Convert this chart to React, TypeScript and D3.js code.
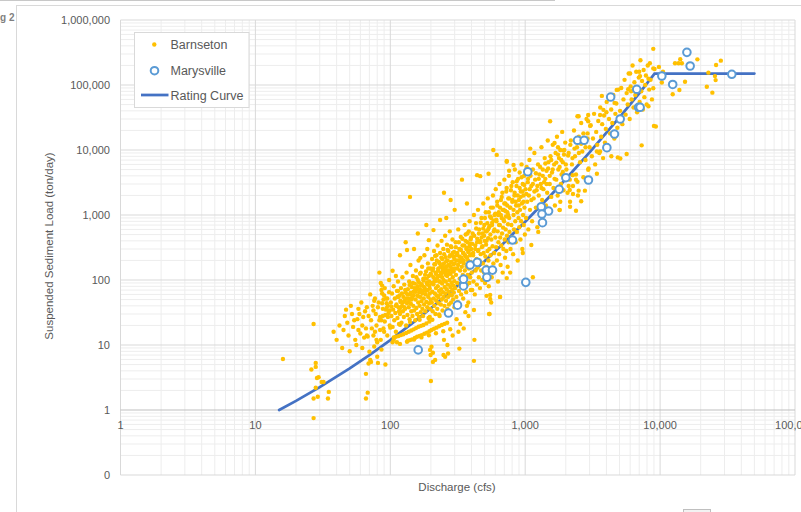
import { useEffect, useRef } from "react";
import * as d3 from "d3";

type Pt = [number, number];

// Barnseton samples: [discharge cfs, load ton/day]
const barnsetonLowFlow: Pt[] = [
  [16, 6.1], [27, 21], [28, 5.3], [26, 4.2], [28, 4.6], [28.6, 3.1], [29.4, 3.2], [31, 2.7],
  [32, 2.7], [28, 2.2], [35, 1.9], [27, 1.5], [29, 1.6], [27, 0.75], [34.5, 1.5], [38, 16],
  [40, 12], [44, 9], [45, 17], [48, 22], [50, 8], [52, 30], [53, 19], [55, 12], [57, 25],
  [58, 17], [58, 36], [60, 15], [62, 20], [62, 9], [63, 27], [65, 33], [66, 18], [66, 3.6],
  [66, 1.5], [67, 14], [68, 13.5], [68, 1.85], [69, 5.2], [70, 7.9], [71, 5.9], [72, 5.5],
  [72, 24], [74, 40], [75, 14], [76, 48], [76, 9.5], [77, 16], [78, 30], [79, 20], [80, 6.6],
  [80, 11], [81, 5.3], [82, 45], [83, 130], [84, 27], [85, 12], [86, 24], [86, 70], [86, 8.5],
  [87, 82], [87, 62], [88, 36], [89, 18], [89, 50], [90, 58], [91, 23], [92, 29], [92, 5],
  [93, 35], [94, 44], [94, 37], [95, 14], [95, 52], [96, 27], [97, 31], [98, 65], [99, 20],
  [42, 20], [46, 28], [47, 35], [49, 14], [51, 40], [54, 24], [56, 10], [59, 30], [61, 45],
  [64, 13], [67, 38], [69, 28], [71, 60], [73, 18], [75, 34], [77, 52], [79, 12], [81, 38],
  [83, 24], [85, 90], [87, 44], [88, 28], [90, 16], [91, 75], [93, 52], [96, 40], [98, 100],
  [99, 34],
];

// the straight runs of points just under the curve
const barnsetonStreaks: Pt[] = [
  [135, 11.6], [140, 11.9], [145, 12.2], [152, 12.8], [158, 13.4], [165, 13.8], [171, 14.2],
  [179, 14.9], [187, 15.5], [195, 16.3], [202, 17], [211, 17.8], [220, 18.5], [230, 19.4],
  [241, 20.3], [252, 21.1], [264, 22],
  [106, 13.1], [110, 13.4], [115, 13.7], [120, 14.2], [125, 14.6], [131, 15.3], [137, 16],
  [143, 16.7], [149, 17.4], [155, 18.2], [162, 19.1], [169, 19.7], [176, 20.3], [185, 21.5],
  [195, 23], [205, 24.5],
  [118, 10.4], [133, 11.2], [150, 12.1], [170, 13.1], [193, 14.1], [218, 15.2], [247, 16.3],
  [278, 17.5],
  [84, 17], [100, 18.5], [118, 20.5], [140, 22.5], [165, 24.5], [196, 27], [230, 29.5],
  [262, 32.6],
];

const barnsetonMidFlow: Pt[] = [
  [101, 45], [102, 28], [103, 62], [104, 19], [105, 35], [106, 80], [107, 24], [108, 52],
  [109, 31], [110, 16], [111, 42], [112, 68], [113, 26], [114, 95], [115, 38], [116, 21],
  [117, 58], [118, 30], [119, 46], [120, 75], [121, 22], [122, 40], [123, 110], [124, 33],
  [125, 55], [126, 27], [127, 85], [128, 48], [129, 36], [130, 64], [131, 20], [132, 130],
  [133, 44], [134, 29], [135, 72], [136, 52], [137, 38], [138, 95], [139, 25], [140, 60],
  [141, 170], [142, 43], [143, 33], [144, 78], [145, 54], [146, 28], [147, 115], [148, 40],
  [149, 66], [150, 34], [152, 88], [153, 24], [154, 50], [155, 140], [156, 37], [157, 72],
  [158, 30], [159, 58], [160, 100], [161, 45], [162, 200], [163, 27], [164, 65], [165, 40],
  [166, 125], [167, 55], [168, 32], [169, 82], [170, 47], [172, 160], [173, 36], [174, 68],
  [175, 28], [176, 105], [177, 52], [178, 42], [179, 240], [180, 75], [182, 33], [183, 60],
  [184, 135], [185, 46], [186, 90], [188, 38], [189, 70], [190, 180], [191, 55], [192, 26],
  [193, 115], [194, 44], [195, 82], [196, 62], [197, 36], [198, 150], [199, 50],
  [104, 11], [112, 11], [106, 12], [197, 8.4], [202, 9.4], [207, 7.6], [199, 7], [200, 2.8],
  [207, 5.5], [215, 5.9], [140, 1900], [130, 380], [160, 520], [185, 700], [118, 240],
  [150, 300], [133, 290], [167, 219], [188, 300], [193, 410], [104, 139], [110, 115],
  [115, 55], [114, 68], [102, 39], [118, 37],
  [201, 120], [203, 45], [204, 210], [205, 66], [206, 33], [208, 150], [209, 86], [210, 52],
  [211, 280], [212, 40], [213, 98], [214, 62], [215, 175], [216, 30], [217, 130], [218, 75],
  [219, 48], [220, 240], [221, 58], [222, 105], [223, 36], [224, 340], [225, 80], [226, 140],
  [227, 54], [228, 44], [229, 190], [230, 68], [231, 115], [232, 28], [233, 95], [234, 260],
  [235, 60], [236, 160], [237, 42], [238, 72], [239, 125], [240, 400], [241, 50], [242, 88],
  [243, 210], [244, 34], [245, 145], [246, 65], [247, 300], [248, 100], [249, 55],
  [250, 180], [252, 40], [253, 78], [254, 130], [255, 480], [256, 62], [257, 225], [258, 95],
  [259, 48], [260, 160], [262, 72], [263, 350], [264, 115], [265, 36], [266, 200], [267, 85],
  [268, 55], [269, 280], [270, 140], [271, 66], [272, 42], [274, 170], [275, 100], [276, 560],
  [277, 60], [278, 240], [279, 78], [280, 125], [282, 45], [283, 190], [284, 320], [285, 90],
  [286, 58], [287, 150], [288, 70], [289, 420], [290, 110], [292, 50], [293, 230], [294, 82],
  [295, 135], [296, 64], [297, 270], [298, 96], [299, 38],
  [300, 180], [303, 75], [305, 380], [307, 120], [309, 55], [311, 240], [313, 90], [315, 150],
  [317, 46], [319, 600], [321, 200], [323, 68], [325, 300], [327, 105], [329, 140], [331, 80],
  [333, 460], [335, 60], [337, 220], [339, 160], [341, 95], [343, 340], [345, 120], [347, 52],
  [349, 260], [351, 180], [353, 75], [355, 700], [357, 140], [359, 100], [361, 400],
  [363, 230], [365, 65], [367, 160], [369, 310], [371, 85], [373, 520], [375, 120], [377, 200],
  [379, 45], [381, 280], [383, 150], [385, 90], [387, 800], [389, 360], [391, 110], [393, 190],
  [395, 70], [397, 450], [399, 250],
  [248, 7], [255, 6.6], [268, 7.4], [325, 8.8], [330, 21], [250, 12], [265, 10], [290, 14],
  [310, 25], [320, 16], [350, 18], [380, 28], [360, 32], [209, 586], [234, 836], [280, 1700],
  [250, 2200], [340, 3500], [215, 235], [300, 1200], [370, 1500], [260, 900],
];

const barnsetonUpperFlow: Pt[] = [
  [402, 130], [405, 70], [408, 520], [411, 240], [414, 95], [417, 1000], [420, 180], [423, 60],
  [426, 340], [429, 140], [432, 750], [435, 210], [438, 85], [441, 430], [444, 155],
  [447, 1200], [450, 290], [453, 110], [456, 600], [459, 200], [462, 75], [465, 380],
  [468, 250], [471, 140], [474, 900], [477, 320], [480, 100], [483, 520], [486, 180],
  [489, 1500], [492, 260], [495, 130], [498, 700], [501, 400], [504, 90], [507, 230],
  [510, 1100], [513, 350], [516, 160], [519, 560], [522, 120], [525, 280], [528, 1800],
  [531, 440], [534, 200], [537, 80], [540, 650], [543, 300], [546, 150], [549, 950],
  [553, 240], [557, 1300], [561, 420], [565, 110], [569, 760], [573, 330], [577, 2000],
  [581, 180], [585, 560], [589, 260], [593, 1000], [597, 140], [601, 450], [605, 2500],
  [609, 320], [613, 800], [617, 200], [621, 1400], [625, 560], [629, 95], [633, 380],
  [637, 1100], [641, 250], [645, 3000], [649, 700], [653, 450], [657, 170], [661, 1700],
  [665, 340], [669, 900], [673, 520], [677, 2200], [681, 130], [685, 640], [689, 300],
  [693, 1200], [697, 800], [701, 3500], [705, 420], [709, 220], [713, 1500], [717, 600],
  [721, 950], [725, 280], [729, 2600], [733, 480], [737, 1100], [741, 160], [745, 720],
  [749, 1800], [753, 380], [757, 4000], [761, 900], [765, 550],
  [772, 1300], [778, 300], [784, 2400], [790, 700], [796, 450], [802, 1600], [808, 3200],
  [814, 250], [820, 1000], [826, 600], [832, 2000], [838, 5000], [844, 800], [850, 380],
  [856, 1400], [862, 2800], [868, 550], [874, 1100], [880, 200], [886, 3600], [892, 900],
  [898, 1700], [904, 650], [910, 4500], [916, 1200], [922, 420], [928, 2300], [934, 800],
  [940, 6000], [946, 1500], [952, 300], [958, 3000], [964, 1000], [970, 2000], [976, 700],
  [982, 4000], [988, 1300], [994, 500],
  [420, 12], [417, 5.7], [417, 34.5], [544, 30], [517, 57], [550, 59], [652, 55], [560, 45],
  [370, 40], [960, 260], [550, 51], [650, 55], [540, 30], [774, 130], [730, 107],
  [440, 4100], [464, 3960], [535, 4300], [615, 8400], [730, 6800], [820, 5900], [580, 10000],
  [730, 6600], [760, 4800],
];

// the thickest part of the cloud, along its middle
const barnsetonCore: Pt[] = [
  [110, 40], [113, 55], [116, 33], [119, 48], [122, 62], [124, 45], [127, 38], [129, 70],
  [132, 52], [134, 60], [137, 46], [139, 84], [142, 64], [144, 50], [147, 90], [149, 58],
  [151, 75], [154, 66], [156, 110], [159, 80], [161, 56], [163, 92], [166, 72], [168, 130],
  [171, 86], [173, 62], [176, 98], [178, 78], [181, 120], [183, 68], [186, 105], [189, 85],
  [191, 150], [194, 95], [196, 74], [199, 125],
  [203, 90], [206, 140], [209, 110], [212, 175], [215, 96], [218, 125], [221, 200], [224, 115],
  [227, 150], [230, 95], [233, 180], [236, 130], [239, 220], [242, 110], [245, 165], [248, 135],
  [251, 250], [254, 150], [257, 120], [260, 195], [263, 140], [266, 290], [269, 170],
  [272, 125], [275, 230], [278, 160], [281, 330], [284, 190], [287, 140], [290, 260],
  [294, 175], [298, 210], [302, 150], [306, 320], [310, 200], [314, 260], [318, 170],
  [322, 380], [326, 230], [330, 190], [334, 290], [338, 210], [342, 430], [346, 260],
  [350, 200], [354, 340], [358, 240], [362, 500], [366, 300], [370, 220], [374, 380],
  [378, 270], [382, 560], [386, 330], [390, 240], [394, 420], [398, 300],
  [405, 360], [412, 260], [419, 480], [426, 300], [433, 620], [440, 380], [447, 280],
  [454, 520], [461, 400], [468, 760], [475, 450], [482, 330], [489, 620], [496, 480],
  [503, 900], [510, 560], [517, 400], [524, 750], [531, 600], [538, 1100], [545, 680],
  [552, 500], [560, 900], [568, 700], [576, 1300], [584, 820], [592, 600], [600, 1050],
  [610, 850], [620, 1600], [630, 1000], [640, 700], [650, 1300], [660, 1000], [670, 1900],
  [680, 1200], [690, 850], [700, 1500], [712, 1150], [724, 2300], [736, 1400], [748, 1000],
  [760, 1800], [775, 1300], [790, 2800], [805, 1700], [820, 1200], [835, 2200], [850, 1600],
  [865, 3300], [880, 2000], [895, 1400], [910, 2600], [925, 1900], [940, 3800], [955, 2300],
  [970, 1600], [985, 2900],
  [1020, 2100], [1050, 3600], [1080, 2500], [1110, 1700], [1140, 3000], [1170, 2300],
  [1200, 4400], [1230, 2800], [1260, 3600], [1290, 5500], [1320, 2600], [1350, 4000],
  [1380, 3200], [1410, 6200], [1440, 3000], [1480, 5200], [1520, 4000], [1560, 7000],
  [1600, 5000], [1650, 3600], [1700, 6400], [1750, 8500], [1800, 5500], [1850, 7000],
  [1900, 4600], [1950, 10000], [2000, 6000], [2080, 8200], [2160, 12000], [2240, 7500],
  [2320, 10500], [2400, 14500], [2500, 9000], [2600, 12500], [2700, 18000], [2800, 11000],
  [2900, 15000],
];

const barnsetonHighFlow: Pt[] = [
  [1005, 2500], [1015, 900], [1025, 5500], [1035, 1600], [1045, 3200], [1055, 600],
  [1065, 2000], [1075, 7000], [1085, 1200], [1095, 4000], [1110, 2800], [1125, 800],
  [1140, 5000], [1155, 1800], [1170, 9000], [1185, 3500], [1200, 1300], [1215, 2400],
  [1230, 650], [1245, 6000], [1260, 2000], [1275, 4200], [1290, 1000], [1305, 3000],
  [1320, 11000], [1335, 1700], [1350, 5000], [1365, 2500], [1380, 800], [1395, 7500],
  [1410, 3600], [1425, 1400], [1440, 4800], [1455, 2200], [1470, 14000], [1485, 6500],
  [1500, 1100], [1520, 3000], [1540, 8000], [1560, 1900], [1580, 4500], [1600, 12000],
  [1620, 2600], [1640, 6000], [1660, 1400], [1680, 9000], [1700, 3500], [1720, 16000],
  [1740, 2000], [1760, 5000], [1780, 7500], [1800, 1200], [1820, 10000], [1840, 3000],
  [1860, 4200], [1880, 19000], [1900, 6500], [1920, 2400], [1940, 8500], [1960, 4000],
  [1980, 13000],
  [1110, 345], [1140, 110], [1250, 550], [1800, 1190], [1530, 27700], [1090, 10500],
  [1650, 12800], [1750, 11000], [1920, 9800],
  [2020, 5000], [2060, 2200], [2100, 9000], [2140, 3500], [2180, 14000], [2220, 6000],
  [2260, 2800], [2300, 20000], [2340, 8000], [2380, 4200], [2420, 11000], [2460, 2000],
  [2500, 16000], [2550, 6500], [2600, 26000], [2650, 9500], [2700, 3800], [2750, 13000],
  [2800, 7000], [2850, 30000], [2900, 18000], [2950, 5200], [3000, 11000], [3060, 24000],
  [3120, 8000], [3180, 15000], [3240, 36000], [3300, 6000], [3360, 19000], [3420, 12000],
  [3480, 28000], [3540, 9000], [3600, 45000], [3660, 16000], [3720, 25000], [3780, 7500],
  [3840, 34000], [3900, 13000], [3960, 21000], [4020, 55000], [4100, 10000], [4180, 30000],
  [4260, 18000], [4340, 42000], [4420, 26000], [4500, 70000], [4580, 15000], [4660, 36000],
  [4740, 52000], [4820, 22000], [4900, 85000], [4980, 30000],
  [2150, 1340], [2150, 1600], [2140, 2420], [2440, 3250], [2930, 4960], [3400, 4300],
  [1820, 1600], [2380, 1160], [2260, 2100], [2600, 1630], [2490, 2370], [2770, 2370],
  [2380, 3500], [2250, 4100], [2100, 2800], [3700, 68000], [4770, 84000], [4600, 53000],
  [2490, 33000], [2930, 34500], [3800, 41500], [4000, 38000], [2440, 33000], [2930, 27700],
  [3030, 23500], [3590, 34500], [3400, 9500], [3590, 9500], [4350, 8000], [4860, 7700],
];

const barnsetonPeakFlow: Pt[] = [
  [5050, 40000], [5150, 90000], [5250, 25000], [5350, 60000], [5450, 120000], [5550, 35000],
  [5650, 75000], [5750, 50000], [5850, 150000], [5950, 30000], [6050, 95000], [6150, 60000],
  [6250, 200000], [6350, 45000], [6450, 110000], [6550, 70000], [6650, 160000], [6750, 38000],
  [6850, 90000], [6950, 130000], [7050, 55000], [7150, 240000], [7250, 80000], [7350, 115000],
  [7450, 42000], [7550, 170000], [7650, 65000], [7750, 100000], [7850, 140000], [7950, 50000],
  [8100, 200000], [8300, 85000], [8500, 120000], [8700, 60000], [8900, 180000],
  [9000, 23500], [7300, 11800], [5650, 8700], [5070, 7400], [8900, 360000], [8400, 217000],
  [9100, 176000], [9300, 23000], [6000, 150000], [7000, 160000], [7100, 137000],
  [5800, 86000], [6100, 80000], [8200, 125000], [8200, 47000], [8900, 89000],
  [10300, 109000], [12900, 216000], [14100, 250000], [14500, 216000], [18900, 248000],
  [15300, 112000], [13900, 83800], [12400, 71900], [22200, 94200], [24400, 76200],
  [22800, 155000], [25500, 137000], [25800, 119000], [26000, 203000], [28200, 237000],
  [13700, 216000], [9800, 190000], [10500, 160000],
];

const marysville: Pt[] = [
  [161, 8.4], [270, 31], [315, 41], [349, 81], [349, 103], [391, 170], [441, 187], [514, 142],
  [572, 142], [520, 110], [1010, 92], [805, 412], [1045, 4630], [1315, 1340], [1490, 1150],
  [1343, 762], [1330, 1035], [1786, 2485], [2001, 3750], [2944, 3453], [2443, 14100],
  [2735, 14100], [4030, 10860], [4590, 17600], [5060, 30000], [6920, 45400], [7110, 45400],
  [4300, 65300], [6710, 85900], [10300, 137500], [12400, 102000], [15800, 318000],
  [16700, 196000], [34000, 146000],
];

const ratingCurve: Pt[] = [
  [15, 1.0], [20, 1.38], [30, 2.25], [50, 4.37], [70, 7.0], [100, 11.9], [150, 22.7],
  [200, 36.7], [300, 74.8], [500, 194], [700, 378], [1000, 786], [1500, 1880], [2000, 3576],
  [3000, 9166], [5000, 31770], [7000, 74570], [9100, 150000], [50000, 150000],
];

const xTickValues = [1, 10, 100, 1000, 10000, 100000];
const yTickValues = [0.1, 1, 10, 100, 1000, 10000, 100000, 1000000];
const legendItems = ["Barnseton", "Marysville", "Rating Curve"];

const FONT = "'Liberation Sans', Arial, sans-serif";
const TEXT = "#595959";

export default function App() {
  const width = 801;
  const height = 512;
  const plot = { left: 120.5, right: 795, top: 20, bottom: 475 };
  const svgRef = useRef<SVGSVGElement>(null);

  useEffect(() => {
    const svg = d3.select(svgRef.current);
    svg.selectAll("*").remove();

    const x = d3.scaleLog().domain([1, 100000]).range([plot.left, plot.right]);
    const y = d3.scaleLog().domain([0.1, 1000000]).range([plot.bottom, plot.top]);

    // bits of the sheet behind the chart
    svg.append("line").attr("x1", 0).attr("x2", 555).attr("y1", 0.5).attr("y2", 0.5)
      .attr("stroke", "#c8c8c8");
    svg.append("text").attr("x", -6).attr("y", 21).attr("font-family", FONT)
      .attr("font-size", 10).attr("font-weight", "bold").attr("fill", "#7f7f7f").text("ug 2");

    svg.append("rect").attr("x", 16.5).attr("y", 5.5).attr("width", 800).attr("height", 520)
      .attr("fill", "#fff").attr("stroke", "#d9d9d9");
    svg.append("rect").attr("x", 683.5).attr("y", 509.5).attr("width", 27).attr("height", 6)
      .attr("fill", "#f2f2f2").attr("stroke", "#bfbfbf");

    const decadesX = d3.range(0, 5).map((i) => Math.pow(10, i));
    const decadesY = d3.range(-1, 6).map((i) => Math.pow(10, i));
    const minorX = decadesX.flatMap((d) => d3.range(2, 10).map((k) => d * k));
    const minorY = decadesY.flatMap((d) => d3.range(2, 10).map((k) => d * k));

    const grid = svg.append("g");
    grid.selectAll(".mx").data(minorX).join("line")
      .attr("x1", (d) => x(d)).attr("x2", (d) => x(d))
      .attr("y1", plot.top).attr("y2", plot.bottom).attr("stroke", "#ededed");
    grid.selectAll(".my").data(minorY).join("line")
      .attr("x1", plot.left).attr("x2", plot.right)
      .attr("y1", (d) => y(d)).attr("y2", (d) => y(d)).attr("stroke", "#ededed");
    grid.selectAll(".MX").data(xTickValues).join("line")
      .attr("x1", (d) => x(d)).attr("x2", (d) => x(d))
      .attr("y1", plot.top).attr("y2", plot.bottom).attr("stroke", "#d9d9d9");
    grid.selectAll(".MY").data(yTickValues).join("line")
      .attr("x1", plot.left).attr("x2", plot.right)
      .attr("y1", (d) => y(d)).attr("y2", (d) => y(d))
      .attr("stroke", (d) => (d === 1 ? "#bfbfbf" : "#d9d9d9"));

    // tick labels
    const fmt = (v: number) => (v < 1 ? "0" : d3.format(",")(v));
    svg.append("g").selectAll("text").data(yTickValues).join("text")
      .attr("x", 110).attr("y", (d) => y(d) + 4)
      .attr("text-anchor", "end").attr("font-family", FONT).attr("font-size", 11)
      .attr("fill", TEXT).text(fmt);
    svg.append("g").selectAll("text").data(xTickValues).join("text")
      .attr("x", (d) => x(d)).attr("y", y(1) + 19)
      .attr("text-anchor", "middle").attr("font-family", FONT).attr("font-size", 11)
      .attr("fill", TEXT).text(fmt);

    // axis titles
    svg.append("text").attr("x", 457).attr("y", 491).attr("text-anchor", "middle")
      .attr("font-family", FONT).attr("font-size", 11.5).attr("fill", TEXT)
      .text("Discharge (cfs)");
    svg.append("text").attr("transform", "rotate(-90)").attr("x", -246).attr("y", 53)
      .attr("text-anchor", "middle").attr("font-family", FONT).attr("font-size", 11.5)
      .attr("fill", TEXT).text("Suspended Sediment Load (ton/day)");

    // rating curve
    const line = d3.line<Pt>().x((d) => x(d[0])).y((d) => y(d[1]));
    svg.append("path").datum(ratingCurve).attr("d", line).attr("fill", "none")
      .attr("stroke", "#4472C4").attr("stroke-width", 2.75).attr("stroke-linecap", "round");

    const barnseton = [
      ...barnsetonLowFlow, ...barnsetonStreaks, ...barnsetonMidFlow,
      ...barnsetonUpperFlow, ...barnsetonCore, ...barnsetonHighFlow, ...barnsetonPeakFlow,
    ];
    svg.append("g").selectAll("circle").data(barnseton).join("circle")
      .attr("cx", (d) => x(d[0])).attr("cy", (d) => y(d[1])).attr("r", 2.2)
      .attr("fill", "#FFC000");

    svg.append("g").selectAll("circle").data(marysville).join("circle")
      .attr("cx", (d) => x(d[0])).attr("cy", (d) => y(d[1])).attr("r", 3.8)
      .attr("fill", "#fff").attr("stroke", "#5B9BD5").attr("stroke-width", 2);

    // legend
    const lg = svg.append("g");
    lg.append("rect").attr("x", 134.5).attr("y", 32.5).attr("width", 114.5).attr("height", 75)
      .attr("fill", "#fff").attr("stroke", "#d9d9d9");
    lg.append("circle").attr("cx", 154.3).attr("cy", 44.5).attr("r", 2.2).attr("fill", "#FFC000");
    lg.append("circle").attr("cx", 154.5).attr("cy", 70.7).attr("r", 3.8).attr("fill", "#fff")
      .attr("stroke", "#5B9BD5").attr("stroke-width", 2);
    lg.append("line").attr("x1", 141).attr("x2", 168.5).attr("y1", 95).attr("y2", 95)
      .attr("stroke", "#4472C4").attr("stroke-width", 2.75);
    lg.selectAll("text").data(legendItems).join("text")
      .attr("x", 170.5).attr("y", (_, i) => 49 + i * 25.5)
      .attr("font-family", FONT).attr("font-size", 12.5).attr("fill", TEXT)
      .text((d) => d);
  }, []);

  return (
    <svg
      ref={svgRef}
      width={width}
      height={height}
      style={{ position: "absolute", left: 0, top: 0, background: "#fff" }}
    />
  );
}
